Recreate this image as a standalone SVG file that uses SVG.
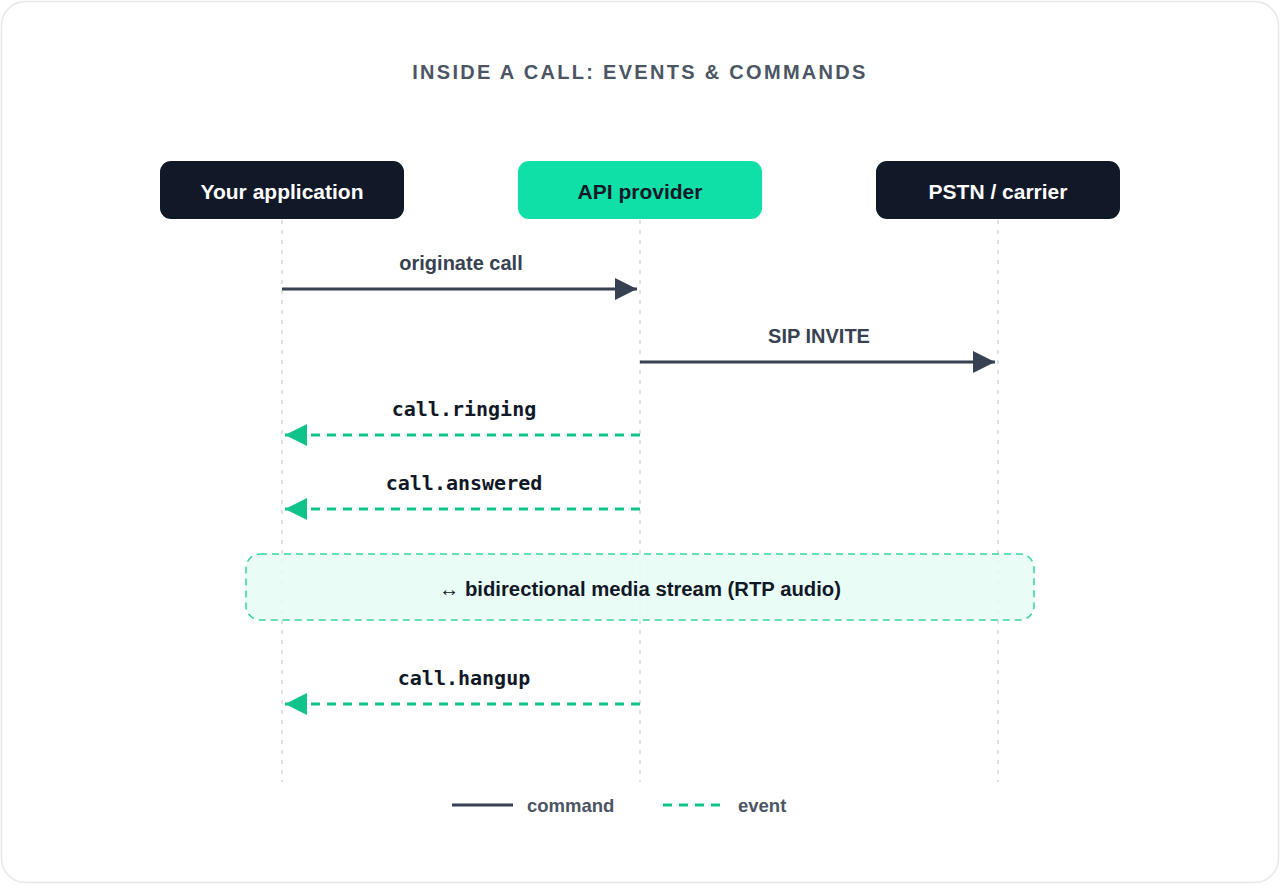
<svg xmlns="http://www.w3.org/2000/svg" width="1280" height="885" viewBox="0 0 1280 885">
  <style>
    .node-dark { fill: #111827; }
    .node-accent { fill: #0fe0a8; }
    .ntext { font-family: "Liberation Sans", Arial, sans-serif; font-weight: 700; font-size: 21px; text-anchor: middle; dominant-baseline: central; }
    .life { stroke: #d4d8de; stroke-width: 1.5; stroke-dasharray: 4 6; fill: none; }
    .cmd { stroke: #374151; stroke-width: 3; fill: none; }
    .evt { stroke: #10c38a; stroke-width: 3; fill: none; stroke-dasharray: 9 7; }
    .clabel { font-family: "Liberation Sans", Arial, sans-serif; font-weight: 700; font-size: 20px; fill: #374151; text-anchor: middle; }
    .elabel { font-family: "DejaVu Sans Mono", "Liberation Mono", monospace; font-weight: 700; font-size: 20px; fill: #111827; text-anchor: middle; }
    .legend { font-family: "Liberation Sans", Arial, sans-serif; font-weight: 700; font-size: 18.5px; fill: #4b5563; dominant-baseline: central; }
  </style>
  <defs>
    <marker id="ah-cmd" markerUnits="userSpaceOnUse" markerWidth="24" markerHeight="24" viewBox="0 0 24 24" refX="22" refY="12" orient="auto">
      <path d="M0,1 L22,12 L0,23 Z" fill="#374151"/>
    </marker>
    <marker id="ah-evt" markerUnits="userSpaceOnUse" markerWidth="24" markerHeight="24" viewBox="0 0 24 24" refX="22" refY="12" orient="auto">
      <path d="M0,1 L22,12 L0,23 Z" fill="#10c38a"/>
    </marker>
  </defs>

  <rect x="1.5" y="1.5" width="1277" height="881" rx="24" fill="#ffffff" stroke="#e5e7eb" stroke-width="1.5"/>

  <text x="640" y="79" font-family="Liberation Sans, Arial, sans-serif" font-weight="700" font-size="20" letter-spacing="2.3" fill="#4b5563" text-anchor="middle">INSIDE A CALL: EVENTS &amp; COMMANDS</text>

  <g id="lifelines">
    <line class="life" x1="282" y1="220" x2="282" y2="782"/>
    <line class="life" x1="640" y1="220" x2="640" y2="782"/>
    <line class="life" x1="998" y1="220" x2="998" y2="782"/>
  </g>

  <g id="node-app">
    <rect class="node-dark" x="160" y="161" width="244" height="58" rx="11"/>
    <text class="ntext" x="282" y="191" fill="#ffffff">Your application</text>
  </g>
  <g id="node-api">
    <rect class="node-accent" x="518" y="161" width="244" height="58" rx="11"/>
    <text class="ntext" x="640" y="191" fill="#111827">API provider</text>
  </g>
  <g id="node-pstn">
    <rect class="node-dark" x="876" y="161" width="244" height="58" rx="11"/>
    <text class="ntext" x="998" y="191" fill="#ffffff">PSTN / carrier</text>
  </g>

  <g id="media">
    <rect x="246" y="554" width="788" height="66" rx="14" fill="#e6fbf4" fill-opacity="0.85" stroke="#34d3a0" stroke-width="1.5" stroke-dasharray="7 5"/>
    <text x="640" y="589" font-family="Liberation Sans, Arial, sans-serif" font-weight="700" font-size="20.3" fill="#111827" text-anchor="middle" dominant-baseline="central">↔ bidirectional media stream (RTP audio)</text>
  </g>

  <g id="connectors">
    <line class="cmd" x1="282" y1="289" x2="637" y2="289" marker-end="url(#ah-cmd)"/>
    <text class="clabel" x="461" y="270">originate call</text>

    <line class="cmd" x1="640" y1="362" x2="995" y2="362" marker-end="url(#ah-cmd)"/>
    <text class="clabel" x="819" y="343">SIP INVITE</text>

    <line class="evt" x1="640" y1="435" x2="285" y2="435" marker-end="url(#ah-evt)"/>
    <text class="elabel" x="464" y="416">call.ringing</text>

    <line class="evt" x1="640" y1="509" x2="285" y2="509" marker-end="url(#ah-evt)"/>
    <text class="elabel" x="464" y="490">call.answered</text>

    <line class="evt" x1="640" y1="704" x2="285" y2="704" marker-end="url(#ah-evt)"/>
    <text class="elabel" x="464" y="685">call.hangup</text>
  </g>

  <g id="legend">
    <line class="cmd" x1="452" y1="805" x2="513" y2="805"/>
    <text class="legend" x="527" y="805">command</text>
    <line class="evt" x1="663" y1="805" x2="724" y2="805" stroke-dasharray="8 6"/>
    <text class="legend" x="738" y="805">event</text>
  </g>
</svg>
